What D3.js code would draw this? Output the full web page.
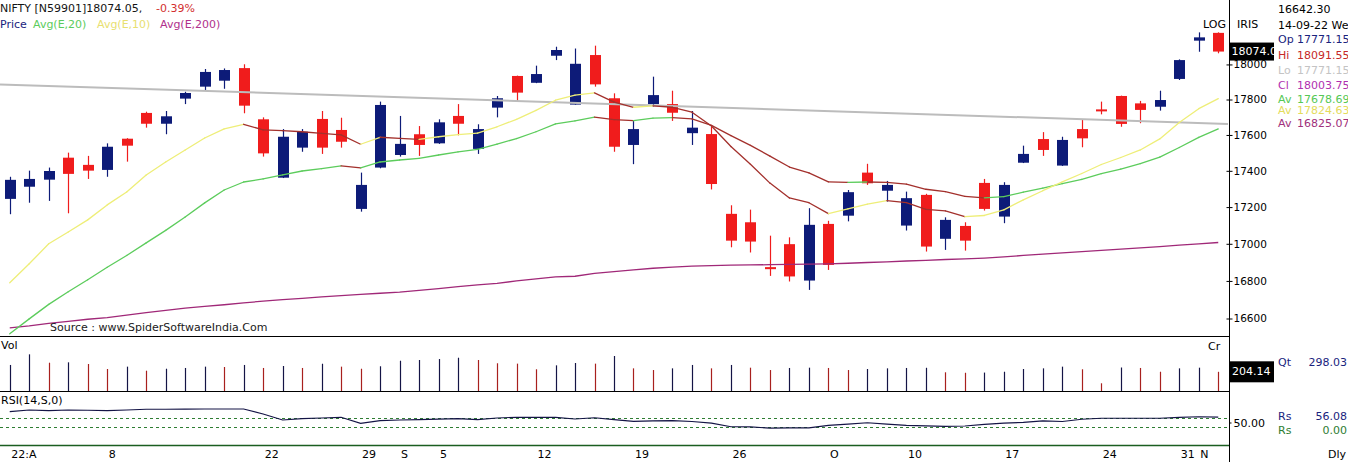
<!DOCTYPE html>
<html><head><meta charset="utf-8">
<script src="https://cdn.jsdelivr.net/npm/d3@7"></script>
<style>
html,body{margin:0;padding:0;background:#fff;}
svg{display:block;font-family:"DejaVu Sans",Verdana,sans-serif;}
</style></head><body>
<svg id="chart" width="1348" height="462"></svg>
<script>
// ---------- data ----------
const dates = ["2022-08-01","2022-08-02","2022-08-03","2022-08-04","2022-08-05","2022-08-08","2022-08-10","2022-08-11","2022-08-12","2022-08-16","2022-08-17","2022-08-18","2022-08-19","2022-08-22","2022-08-23","2022-08-24","2022-08-25","2022-08-26","2022-08-29","2022-08-30",
"2022-09-01","2022-09-02","2022-09-05","2022-09-06","2022-09-07","2022-09-08","2022-09-09","2022-09-12","2022-09-13","2022-09-14","2022-09-15","2022-09-16","2022-09-19","2022-09-20","2022-09-21","2022-09-22","2022-09-23","2022-09-26","2022-09-27","2022-09-28","2022-09-29","2022-09-30",
"2022-10-03","2022-10-04","2022-10-06","2022-10-07","2022-10-10","2022-10-11","2022-10-12","2022-10-13","2022-10-14","2022-10-17","2022-10-18","2022-10-19","2022-10-20","2022-10-21","2022-10-24","2022-10-25","2022-10-27","2022-10-28","2022-10-31",
"2022-11-01","2022-11-02"];
const open = [17245,17312,17351,17473,17433,17405,17579,17724,17663,17805,17873,17907,17979,17688,17362,17529,17690,17628,17190,17418,17488,17604,17553,17707,17522,17754,17934,17895,18050,17771.15,18054,17807,17544,17774,17774,17610,17605,17163,17117,16874,16998,16802,17108,17153,17390,17290,17099,17267,17027,17097,17333,17148,17445,17577,17429,17633,17744,17820,17778,17759,17917,18137,18182];
const high = [17367,17401,17418,17501,17483,17553,17582,17731,17735,17844,17974,17977,18001,17699,17633,17633,17735,17697,17390,17788,17707,17650,17688,17774,17660,17820,17936,17993,18102,18091.55,18108,17835,17684,17930,17850,17735,17646,17210,17186,17044,17035,17194,17125,17294,17439,17344,17285,17273,17144,17117,17355,17337,17540,17616,17590,17684,17788,17822,17792,17850,18029,18185,18185];
const low = [17161,17224,17234,17166,17355,17367,17451,17641,17604,17774,17850,17861,17722,17479,17360,17506,17494,17529,17175,17414,17479,17483,17550,17598,17494,17699,17792,17893,18025,17771.15,17873,17506,17437,17759,17679,17544,17297,16981,16953,16827,16797,16752,16859,17122,17322,17230,17072,16958,16967,16963,17181,17112,17443,17483,17427,17531,17716,17646,17666,17737,17911,18073,18064];
const close = [17350,17355,17399,17383,17401,17534,17540,17663,17705,17837,17957,17968,17765,17497,17590,17618,17529,17562,17322,17769,17550,17544,17671,17663,17633,17807,17839,17945,18083,18003.75,17886,17534,17633,17825,17725,17641,17327,17017,17012,16863,16824,17103,16886,17282,17331,17322,17249,16985,17130,17017,17190,17322,17494,17516,17572,17581,17739,17662,17741,17797,18025,18156,18074.05];
const ema10 = [16790,16892,17000,17064,17130,17212,17283,17377,17449,17516,17583,17634,17660,17628,17624,17618,17609,17600,17548,17587,17581,17575,17590,17602,17610,17646,17688,17738,17796,17824.63,17838,17785,17756,17764,17756,17728,17650,17535,17436,17332,17250,17224,17164,17190,17216,17235,17225,17188,17179,17148,17154,17185,17240,17290,17339,17385,17435,17474,17516,17578,17670,17748,17805];
const ema20 = [16519,16598,16675,16742,16806,16873,16937,17005,17073,17146,17223,17294,17338,17355,17377,17399,17412,17427,17416,17449,17460,17469,17488,17505,17519,17548,17580,17618,17662,17678.69,17700,17686,17680,17695,17697,17690,17654,17596,17542,17482,17421,17389,17339,17336,17338,17336,17326,17298,17285,17259,17251,17258,17282,17304,17329,17352,17384,17410,17440,17476,17530,17586,17634];
const ema200 = [16551,16561,16574,16585,16596,16605,16618,16631,16643,16655,16664,16673,16683,16692,16700,16707,16715,16721,16728,16734,16740,16750,16759,16770,16779,16787,16800,16811,16822,16825.07,16840,16850,16859,16868,16874,16879,16882,16885,16886,16887,16889,16890,16892,16895,16899,16902,16907,16910,16915,16918,16923,16929,16937,16944,16951,16958,16964,16971,16978,16985,16993,17000,17007];
const volume = [277,390,301,305,287,234,259,216,237,245,259,255,277,245,266,245,290,259,237,263,322,330,340,354,330,295,291,231,273,298.03,291,372,241,223,241,277,241,277,248,223,245,248,245,223,234,241,245,247,199,194,196,205,234,241,259,231,82,250,245,205,241,248,204.14];
const rsi = [62.0,63.9,63.1,63.9,63.6,63.2,63.9,64.7,64.7,64.9,65.0,65.0,65.0,59.4,52.8,54.4,55.0,55.8,49.1,52.0,52.8,53.3,53.7,54.2,53.3,55.0,55.8,55.8,55.6,53.9,55.3,53.3,51.3,51.9,52.0,51.1,49.4,45.3,45.2,43.7,44.1,44.1,46.9,48.3,49.7,48.3,46.7,46.3,45.6,46.1,48.0,49.2,50.2,51.9,51.1,53.6,54.7,54.7,54.7,54.7,55.8,56.4,56.08];
const trendStart = 17886, trendEnd = 17662;
const rsiBands = [55, 45];
const priceTicks = [16600,16800,17000,17200,17400,17600,17800,18000];
const rsiTicks = [50];
const tickDates = ["2022-08-01","2022-08-08","2022-08-22","2022-08-29","2022-09-01","2022-09-05","2022-09-12","2022-09-19","2022-09-26","2022-10-03","2022-10-10","2022-10-17","2022-10-24","2022-10-31","2022-11-01"];
const tickLabels = ["22:A","8","22","29","S","5","12","19","26","O","10","17","24","31","N"];
const changeText = "-0.39%";
const infoLabels = ["Op","Hi","Lo","Cl","Av","Av","Av"];
const infoValues = ["17771.15","18091.55","17771.15","18003.75","17678.69","17824.63","16825.07"];

// ---------- styles ----------
const NAVY = "#0d1b78", RED = "#f01c1c", VNAVY = "#141446", VRED = "#a8201e";
const C10 = "#eeee78", C20 = "#5ccc5c", CFALL = "#a3302c", C200 = "#a02878", CTREND = "#bcbcbc";
const infoColors = ["#1a237e","#c62828","#c4c4c4","#b030b0","#55c855","#e4dc5c","#a0307c"];

const svg = d3.select("#chart");
const W = 1348, H = 462, axisX = 1229, plotR = 1228;
const n = dates.length;
const idx = d3.range(n);

const x = d3.scaleLinear().domain([-0.5, n - 0.5]).range([0, plotR]);
const yP = d3.scaleLog().domain([16600, 17800]).range([318.5, 99.5]);
const yV = d3.scaleLinear().domain([0, 585]).range([391, 336]);
const yR = d3.scaleLinear().domain([25, 85]).range([445, 391]);
const px = i => Math.round(x(i)) + 0.5;

const defs = svg.append("defs");
function clip(id, xx, yy, w, h) {
  defs.append("clipPath").attr("id", id).append("rect").attr("x", xx).attr("y", yy).attr("width", w).attr("height", h);
}
clip("cMain", 0, 0, plotR, 336);
clip("cVol", 0, 336, plotR, 55);
clip("cRsi", 0, 391, plotR, 54);

// ---------- main panel ----------
const gMain = svg.append("g").attr("clip-path", "url(#cMain)");
const up = i => close[i] >= open[i];

gMain.selectAll("line.wick").data(idx).join("line").attr("class", "wick")
  .attr("x1", px).attr("x2", px)
  .attr("y1", i => yP(high[i])).attr("y2", i => yP(low[i]))
  .attr("stroke", i => up(i) ? NAVY : RED).attr("stroke-width", 1.2);

const bw = 11;
gMain.selectAll("rect.body").data(idx).join("rect").attr("class", "body")
  .attr("x", i => Math.round(x(i)) - (bw - 1) / 2)
  .attr("y", i => yP(Math.max(open[i], close[i])))
  .attr("width", bw)
  .attr("height", i => Math.max(2, Math.abs(yP(open[i]) - yP(close[i]))))
  .attr("fill", i => up(i) ? NAVY : RED);

// trend line
gMain.append("line")
  .attr("x1", x(-0.5)).attr("x2", x(n - 0.5))
  .attr("y1", yP(trendStart)).attr("y2", yP(trendEnd))
  .attr("stroke", CTREND).attr("stroke-width", 2);

// EMA200
gMain.append("path").datum(idx)
  .attr("d", d3.line().x(i => x(i)).y(i => yP(ema200[i])))
  .attr("fill", "none").attr("stroke", C200).attr("stroke-width", 1.3);

// slope-coloured EMAs
function slopeLine(vals, base) {
  const seg = idx.slice(1);
  gMain.append("g").selectAll("line").data(seg).join("line")
    .attr("x1", i => x(i - 1)).attr("x2", i => x(i))
    .attr("y1", i => yP(vals[i - 1])).attr("y2", i => yP(vals[i]))
    .attr("stroke", i => vals[i] < vals[i - 1] ? CFALL : base)
    .attr("stroke-width", 1.3).attr("stroke-linecap", "round");
}
slopeLine(ema20, C20);
slopeLine(ema10, C10);

// source text
svg.append("text").attr("x", 50).attr("y", 327.5).attr("dominant-baseline", "central")
  .attr("font-size", 11).attr("fill", "#1a1a1a").text("Source : www.SpiderSoftwareIndia.Com");

// ---------- volume ----------
const gVol = svg.append("g").attr("clip-path", "url(#cVol)");
gVol.selectAll("line").data(idx).join("line")
  .attr("x1", px).attr("x2", px)
  .attr("y1", yV(0)).attr("y2", i => yV(volume[i]))
  .attr("stroke", i => (i > 0 && volume[i] < volume[i - 1]) ? VRED : VNAVY)
  .attr("stroke-width", 1.2);

// ---------- RSI ----------
const gRsi = svg.append("g").attr("clip-path", "url(#cRsi)");
gRsi.selectAll("line.band").data(rsiBands).join("line").attr("class", "band")
  .attr("x1", 0).attr("x2", plotR)
  .attr("y1", d => Math.round(yR(d)) + 0.5).attr("y2", d => Math.round(yR(d)) + 0.5)
  .attr("stroke", "#2e7d32").attr("stroke-dasharray", "3,3").attr("stroke-width", 1);
gRsi.append("path").datum(idx)
  .attr("d", d3.line().x(i => x(i)).y(i => yR(rsi[i])))
  .attr("fill", "none").attr("stroke", "#141446").attr("stroke-width", 1.2);

// ---------- frame lines ----------
svg.append("line").attr("x1", 0).attr("x2", axisX).attr("y1", 336.5).attr("y2", 336.5).attr("stroke", "#000");
svg.append("line").attr("x1", 0).attr("x2", axisX).attr("y1", 391.5).attr("y2", 391.5).attr("stroke", "#000");
svg.append("line").attr("x1", 0).attr("x2", axisX).attr("y1", 445.5).attr("y2", 445.5).attr("stroke", "#1b5e20").attr("stroke-width", 1.3);
svg.append("line").attr("x1", axisX + 0.5).attr("x2", axisX + 0.5).attr("y1", 0).attr("y2", H).attr("stroke", "#000");

// ---------- axes ----------
const yAxis = svg.append("g").attr("transform", `translate(${axisX + 0.5},0)`)
  .call(d3.axisRight(yP).tickValues(priceTicks).tickFormat(d3.format("d")).tickSize(3).tickPadding(1));
yAxis.select(".domain").remove();
yAxis.selectAll(".tick line").attr("x1", -3).attr("stroke", "#000");
yAxis.selectAll(".tick text").attr("font-size", 10.5).attr("font-family", "DejaVu Sans").attr("fill", "#000");

const rAxis = svg.append("g").attr("transform", `translate(${axisX + 0.5},0)`)
  .call(d3.axisRight(yR).tickValues(rsiTicks).tickFormat(d3.format(".2f")).tickSize(2).tickPadding(2));
rAxis.select(".domain").remove();
rAxis.selectAll(".tick text").attr("font-size", 11).attr("font-family", "DejaVu Sans").attr("fill", "#000");

const tickIdx = tickDates.map(d => dates.indexOf(d));
const xAxis = svg.append("g").attr("transform", "translate(0,447)")
  .call(d3.axisBottom(x).tickValues(tickIdx).tickFormat((d, k) => tickLabels[k]).tickSize(0).tickPadding(0));
xAxis.select(".domain").remove();
xAxis.selectAll(".tick text").attr("font-size", 11).attr("font-family", "DejaVu Sans").attr("fill", "#000")
  .attr("text-anchor", "start").attr("dx", 1).attr("y", 7).attr("dy", 0).attr("dominant-baseline", "central");

// ---------- last-value boxes ----------
const lastP = close[n - 1], lastV = volume[n - 1];
svg.append("rect").attr("x", 1230).attr("y", yP(lastP) - 9).attr("width", 44).attr("height", 18).attr("fill", "#000");
svg.append("text").attr("x", 1231.5).attr("y", yP(lastP)).attr("dominant-baseline", "central")
  .attr("font-size", 11).attr("fill", "#fff").text(d3.format(".2f")(lastP).slice(0, 7));
svg.append("rect").attr("x", 1230).attr("y", yV(lastV) - 10.5).attr("width", 44).attr("height", 21).attr("fill", "#000");
svg.append("text").attr("x", 1232).attr("y", yV(lastV)).attr("dominant-baseline", "central")
  .attr("font-size", 11).attr("fill", "#fff").text(d3.format(".2f")(lastV));

// ---------- header texts ----------
function txt(t, xx, yy, col, size, anchor) {
  return svg.append("text").attr("x", xx).attr("y", yy).attr("dominant-baseline", "central")
    .attr("font-size", size || 11).attr("fill", col).attr("text-anchor", anchor || "start").text(t);
}
txt("NIFTY [N59901]" + d3.format(".2f")(close[n - 1]) + ",", 0, 8.5, "#141414");
txt(changeText, 156, 8.5, "#d32f2f");
txt("Price", 0, 24, "#1a237e");
txt("Avg(E,20)", 33, 24, C20);
txt("Avg(E,10)", 97, 24, "#e8e070");
txt("Avg(E,200)", 160, 24, "#b0308c");
txt("LOG", 1203, 24, "#000");
txt("IRIS", 1237, 24, "#000");

// info panel
txt("16642.30", 1278, 9.5, "#000");
txt("14-09-22 We", 1278, 25, "#000");
const infoY = [39.5, 55.5, 70.5, 85.5, 99, 110.5, 123.5];
infoLabels.forEach((l, k) => {
  txt(l, 1278, infoY[k], infoColors[k]);
  txt(infoValues[k], 1297, infoY[k], infoColors[k]);
});

// volume / rsi side texts
txt("Vol", 1, 345, "#000");
txt("Cr", 1208, 346, "#000");
txt("Qt", 1278, 362.5, "#1a237e");
txt(d3.format(".2f")(volume[29]), 1347, 362.5, "#1a237e", 11, "end");
txt("RSI(14,S,0)", 1, 400.5, "#000");
txt("Rs", 1278, 416, "#1a237e");
txt(d3.format(".2f")(rsi[n - 1]), 1347, 416, "#1a237e", 11, "end");
txt("Rs", 1278, 430, "#2e7d32");
txt("0.00", 1347, 430, "#2e7d32", 11, "end");
txt("Dly", 1328, 454, "#000");
</script>
</body></html>
